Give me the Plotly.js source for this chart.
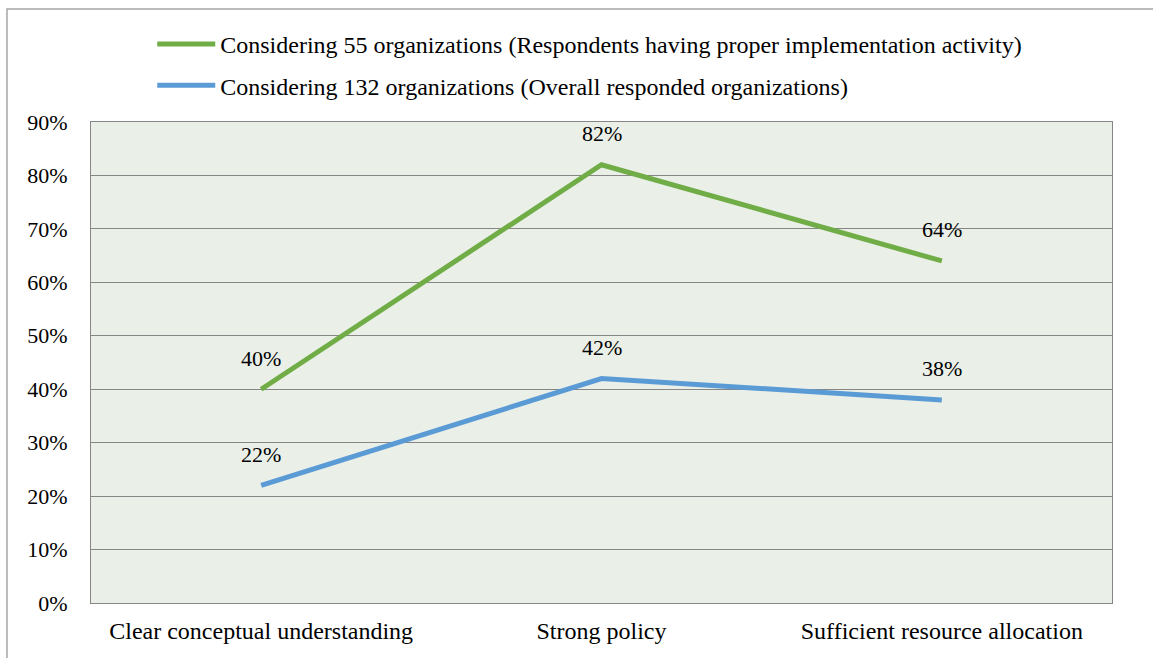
<!DOCTYPE html>
<html><head><meta charset="utf-8">
<script src="https://cdn.plot.ly/plotly-3.0.1.min.js"></script>
<style>html,body{margin:0;padding:0;background:#fff}</style>
</head><body><div id="chart" style="width:1153px;height:658px"></div>
<script>
const categories = ["Clear conceptual understanding", "Strong policy", "Sufficient resource allocation"];
const seriesNames = ["Considering 55 organizations (Respondents having proper implementation activity)", "Considering 132 organizations (Overall responded organizations)"];
const series55 = [0.40, 0.82, 0.64];
const series132 = [0.22, 0.42, 0.38];
const colors = ["#70AD47", "#5B9BD5"];
const yTicks = [0, 0.1, 0.2, 0.3, 0.4, 0.5, 0.6, 0.7, 0.8, 0.9];

const fam = "'Liberation Serif', 'Times New Roman', serif";
const textFont = {family: fam, size: 24, color: "#000"};
const numFont = {family: fam, size: 22, color: "#000"};
const allSeries = [series55, series132];
const traces = allSeries.map((vals, i) => ({
  type: "scatter", mode: "lines", x: categories, y: vals, name: seriesNames[i],
  legendgroup: "g" + i,
  line: {color: colors[i], width: 5}, hoverinfo: "skip"
}));
const annotations = [];
allSeries.forEach(vals => vals.forEach((v, j) => annotations.push({
  x: categories[j], y: v, xref: "x", yref: "y", text: Math.round(v * 100) + "%",
  showarrow: false, yshift: 31, font: numFont
})));
const layout = {
  width: 1153, height: 658,
  margin: {l: 91, r: 41, t: 122, b: 55, autoexpand: false},
  paper_bgcolor: "#fff", plot_bgcolor: "#EAEFE8",
  font: textFont,
  showlegend: true,
  legend: {orientation: "v", x: 0.06, xanchor: "left", y: 1.208, yanchor: "top",
    font: textFont, tracegroupgap: 7, itemwidth: 58, bgcolor: "rgba(0,0,0,0)"},
  xaxis: {type: "category", range: [-0.5, 2.5], showgrid: false, zeroline: false,
    showline: true, linecolor: "#868686", linewidth: 1, mirror: true, ticks: "",
    ticklabelstandoff: 6, tickfont: textFont, fixedrange: true},
  yaxis: {range: [0, 0.9], tickvals: yTicks, tickformat: ".0%", showgrid: true,
    gridcolor: "#868686", gridwidth: 1, zeroline: false, showline: true,
    linecolor: "#868686", linewidth: 1, mirror: true, ticks: "",
    ticklabelstandoff: 18, tickfont: numFont, fixedrange: true},
  annotations: annotations,
  shapes: [{type: "rect", xref: "paper", yref: "paper", x0: -0.0823, x1: 1.2, y0: -0.3, y1: 1.2349,
    line: {color: "#A6A6A6", width: 1.5}, layer: "below"}]
};
Plotly.newPlot("chart", traces, layout, {displayModeBar: false, staticPlot: true});
</script></body></html>
